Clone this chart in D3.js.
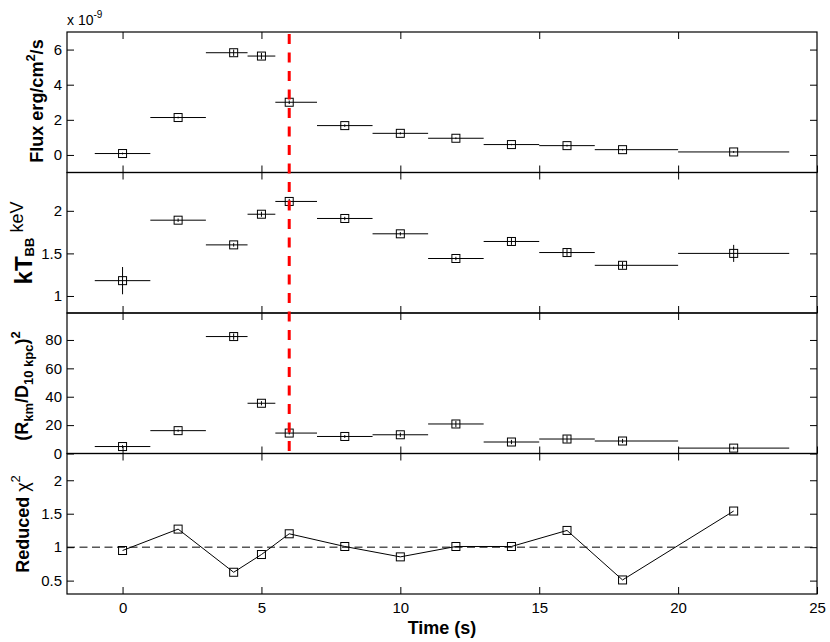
<!DOCTYPE html>
<html>
<head>
<meta charset="utf-8">
<script src="https://cdn.jsdelivr.net/npm/d3@7"></script>
<style>
	body { margin: 0; background: #fff; }
	text { font-family: "Liberation Sans", Arial, Helvetica, sans-serif; }
</style>
</head>
<body>
<div id="chart-container"></div>
<script>

// time bins (s)
var time = [0, 2, 4, 5, 6, 8, 10, 12, 14, 16, 18, 22];
var time_low = [-1, 1, 3, 4.5, 5.5, 7, 9, 11, 13, 15, 17, 20];
var time_high = [1, 3, 4.5, 5.5, 7, 9, 11, 13, 15, 17, 20, 24];

// flux in units of 1e-9 erg/cm2/s
var flux = [0.08, 2.13, 5.82, 5.63, 3.0, 1.67, 1.23, 0.95, 0.59, 0.53, 0.30, 0.17];
var flux_err = [0.05, 0.05, 0.18, 0.18, 0.1, 0.07, 0.06, 0.05, 0.04, 0.05, 0.04, 0.05];

var kt = [1.18, 1.89, 1.60, 1.96, 2.11, 1.91, 1.73, 1.44, 1.64, 1.51, 1.36, 1.50];
var kt_err = [0.16, 0.02, 0.02, 0.03, 0.03, 0.02, 0.02, 0.02, 0.04, 0.04, 0.04, 0.1];

var radius = [4.9, 16.1, 82.4, 35.4, 14.4, 12.0, 13.2, 20.8, 8.1, 10.2, 8.8, 3.8];
var radius_err = [1, 0.8, 2.2, 1.5, 1, 1, 1.5, 2.2, 1.5, 2.5, 1.5, 1];

var chi2 = [0.95, 1.27, 0.625, 0.89, 1.20, 1.01, 0.855, 1.01, 1.01, 1.25, 0.51, 1.54];

var x_ticks = [0, 5, 10, 15, 20, 25];
var flux_ticks = [0, 2, 4, 6];
var kt_ticks = [1, 1.5, 2];
var radius_ticks = [0, 20, 40, 60, 80];
var chi2_ticks = [0.5, 1, 1.5, 2];

var onset_time = 6;

var width = 830, height = 642;
var left = 67, right = 817;
var top_y = 32, panel_h = 140.5;

var svg = d3.select("#chart-container").append("svg")
			.attr("width", width)
			.attr("height", height);

var x = d3.scaleLinear().domain([-2, 25]).range([left, right]);

function create_panel(index, domain, ticks, show_x_labels) {
	var y0 = top_y + index * panel_h;
	var y = d3.scaleLinear().domain(domain).range([y0 + panel_h, y0]);
	var g = svg.append("g");

	g.append("g")
	 .attr("transform", "translate(" + left + ",0)")
	 .call(d3.axisLeft(y).tickValues(ticks).tickSize(-7).tickPadding(5).tickFormat(d3.format("")));
	g.append("g")
	 .attr("transform", "translate(" + right + ",0)")
	 .call(d3.axisRight(y).tickValues(ticks).tickSize(-7).tickFormat(""));
	g.append("g")
	 .attr("transform", "translate(0," + y0 + ")")
	 .call(d3.axisTop(x).tickValues(x_ticks.slice(0, -1)).tickSize(-7).tickFormat(""));
	g.append("g")
	 .attr("transform", "translate(0," + (y0 + panel_h) + ")")
	 .call(d3.axisBottom(x).tickValues(x_ticks).tickSize(-7).tickPadding(8)
	 .tickFormat(show_x_labels ? d3.format("") : ""));

	g.selectAll(".domain").remove();
	g.selectAll(".tick line").attr("stroke", "#000");
	g.selectAll(".tick text")
	 .attr("fill", "#000")
	 .style("font-size", "15px")
	 .style("font-family", "'Liberation Sans', Arial, sans-serif");

	g.append("rect")
	 .attr("x", left)
	 .attr("y", y0)
	 .attr("width", right - left)
	 .attr("height", panel_h)
	 .attr("fill", "none")
	 .attr("stroke", "#000")
	 .attr("stroke-width", 1.2);

	return y;
}

function draw_points(y, values, errors) {
	var g = svg.append("g");
	var idx = d3.range(values.length);

	g.selectAll(".xerr").data(idx).enter().append("line")
	 .attr("x1", function(i) { return x(time_low[i]); })
	 .attr("x2", function(i) { return x(time_high[i]); })
	 .attr("y1", function(i) { return y(values[i]); })
	 .attr("y2", function(i) { return y(values[i]); })
	 .attr("stroke", "#000")
	 .attr("stroke-width", 1);

	if (errors !== null) {
		g.selectAll(".yerr").data(idx).enter().append("line")
		 .attr("x1", function(i) { return x(time[i]); })
		 .attr("x2", function(i) { return x(time[i]); })
		 .attr("y1", function(i) { return y(values[i] - errors[i]); })
		 .attr("y2", function(i) { return y(values[i] + errors[i]); })
		 .attr("stroke", "#000")
		 .attr("stroke-width", 1);
	}

	draw_squares(g, y, values);
}

function draw_squares(g, y, values) {
	g.selectAll(".marker").data(d3.range(values.length)).enter().append("rect")
	 .attr("x", function(i) { return x(time[i]) - 4; })
	 .attr("y", function(i) { return y(values[i]) - 4; })
	 .attr("width", 8)
	 .attr("height", 8)
	 .attr("fill", "none")
	 .attr("stroke", "#000")
	 .attr("stroke-width", 1);
}

function add_label(pos_x, pos_y, parts) {
	var text = svg.append("text")
				  .attr("transform", "translate(" + pos_x + "," + pos_y + ") rotate(-90)")
				  .attr("text-anchor", "middle")
				  .attr("fill", "#000");
	parts.forEach(function(p) {
		text.append("tspan")
			.attr("dy", p.dy || 0)
			.style("font-size", p.size + "px")
			.style("font-weight", p.bold ? "bold" : "normal")
			.text(p.t);
	});
}

var y_flux = create_panel(0, [-1, 7], flux_ticks, false);
var y_kt = create_panel(1, [0.8, 2.45], kt_ticks, false);
var y_radius = create_panel(2, [0, 99], radius_ticks, false);
var y_chi2 = create_panel(3, [0.3, 2.4], chi2_ticks, true);

draw_points(y_flux, flux, flux_err);
draw_points(y_kt, kt, kt_err);
draw_points(y_radius, radius, radius_err);

// reduced chi2: reference line at 1, then connected markers
svg.append("line")
   .attr("x1", left)
   .attr("x2", right)
   .attr("y1", y_chi2(1))
   .attr("y2", y_chi2(1))
   .attr("stroke", "#000")
   .attr("stroke-width", 1)
   .attr("stroke-dasharray", "8,4.5");

var chi2_line = d3.line()
				  .x(function(d, i) { return x(time[i]); })
				  .y(function(d) { return y_chi2(d); });

svg.append("path")
   .attr("d", chi2_line(chi2))
   .attr("fill", "none")
   .attr("stroke", "#000")
   .attr("stroke-width", 1);

draw_squares(svg.append("g"), y_chi2, chi2);

// burst onset marker
svg.append("line")
   .attr("x1", x(onset_time))
   .attr("x2", x(onset_time))
   .attr("y1", y_flux.range()[1] + 2)
   .attr("y2", y_radius.range()[0])
   .attr("stroke", "#ff0000")
   .attr("stroke-width", 3)
   .attr("stroke-dasharray", "10,8.5");

// axis labels
add_label(43, 101, [
	{t: "Flux erg/cm", size: 18, bold: true},
	{t: "2", size: 13, bold: true, dy: -8},
	{t: "/s", size: 18, bold: true, dy: 8}
]);
add_label(32, 243, [
	{t: "kT", size: 24, bold: true},
	{t: "BB", size: 13, bold: true, dy: 2},
	{t: " keV", size: 18, bold: false, dy: -11}
]);
add_label(28, 386, [
	{t: "(R", size: 18, bold: true},
	{t: "km", size: 13, bold: true, dy: 5},
	{t: "/D", size: 18, bold: true, dy: -5},
	{t: "10 kpc", size: 13, bold: true, dy: 5},
	{t: ")", size: 18, bold: true, dy: -5},
	{t: "2", size: 13, bold: true, dy: -8}
]);
add_label(29, 524, [
	{t: "Reduced ", size: 18, bold: true},
	{t: "\u03c7", size: 18, bold: false},
	{t: "2", size: 13, bold: false, dy: -9}
]);

svg.append("text")
   .attr("x", (left + right) / 2)
   .attr("y", 634)
   .attr("text-anchor", "middle")
   .style("font-size", "18px")
   .style("font-weight", "bold")
   .text("Time (s)");

var exponent = svg.append("text")
				  .attr("x", left)
				  .attr("y", 25)
				  .style("font-size", "14px");
exponent.append("tspan").text("x 10");
exponent.append("tspan").attr("dy", -7).style("font-size", "10px").text("-9");

</script>
</body>
</html>
